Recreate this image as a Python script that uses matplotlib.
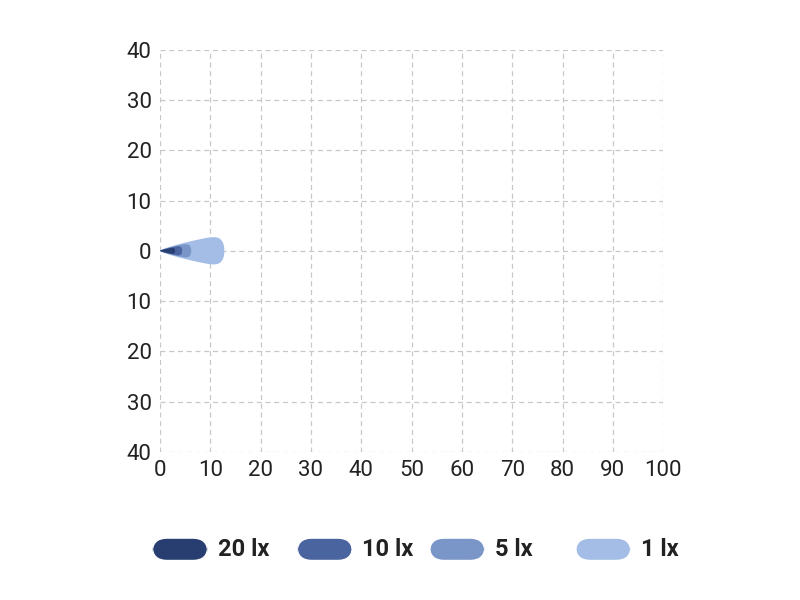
import numpy as np
import matplotlib
matplotlib.use("Agg")
import matplotlib.pyplot as plt
from matplotlib.patches import FancyBboxPatch

labels = ["20 lx", "10 lx", "5 lx", "1 lx"]
lengths = [3.0, 4.4, 6.2, 12.8]
halfwidths = [0.7, 1.1, 1.6, 3.3]
colors = ["#283d70", "#4a64a0", "#7a96c8", "#a3bde6"]
xticks = [0, 10, 20, 30, 40, 50, 60, 70, 80, 90, 100]
yticks = [-40, -30, -20, -10, 0, 10, 20, 30, 40]

plt.rcParams['font.family'] = ['Roboto', 'DejaVu Sans']
fig = plt.figure(figsize=(8, 6), dpi=100)
ax = fig.add_axes([0.2, 0.247, 0.629, 0.67])
ax.set_xlim(0, 100)
ax.set_ylim(-40, 40)
ax.set_xticks(xticks)
ax.set_yticks(yticks)
ax.set_yticklabels([str(abs(v)) for v in yticks])
ax.grid(True, color="#c8c8c8", linestyle=(0, (4, 3)), linewidth=0.9)
for s in ax.spines.values():
    s.set_visible(False)
ax.tick_params(length=0, labelsize=16, colors="#222222", pad=6)

for L, W, c in reversed(list(zip(lengths, halfwidths, colors))):
    t = np.linspace(0, 1, 300)
    h = W * t**0.75 * np.clip(1 - t**12, 0, None)**0.5
    x = np.concatenate([t * L, (t * L)[::-1]])
    y = np.concatenate([h, -h[::-1]])
    ax.fill(x, y, color=c, lw=0, zorder=3)

# legend
lx = [0.191, 0.372, 0.5375, 0.72]
for xpos, lab, c in zip(lx, labels, colors):
    fig.patches.append(FancyBboxPatch((xpos, 0.067), 0.068, 0.035,
                                      boxstyle="round,pad=0,rounding_size=0.0175",
                                      mutation_aspect=1.33,
                                      transform=fig.transFigure, color=c, lw=0))
    fig.text(xpos + 0.081, 0.084, lab, fontsize=17, va="center", ha="left",
             fontweight="bold", color="#222222")

fig.savefig("out.png", dpi=100)
